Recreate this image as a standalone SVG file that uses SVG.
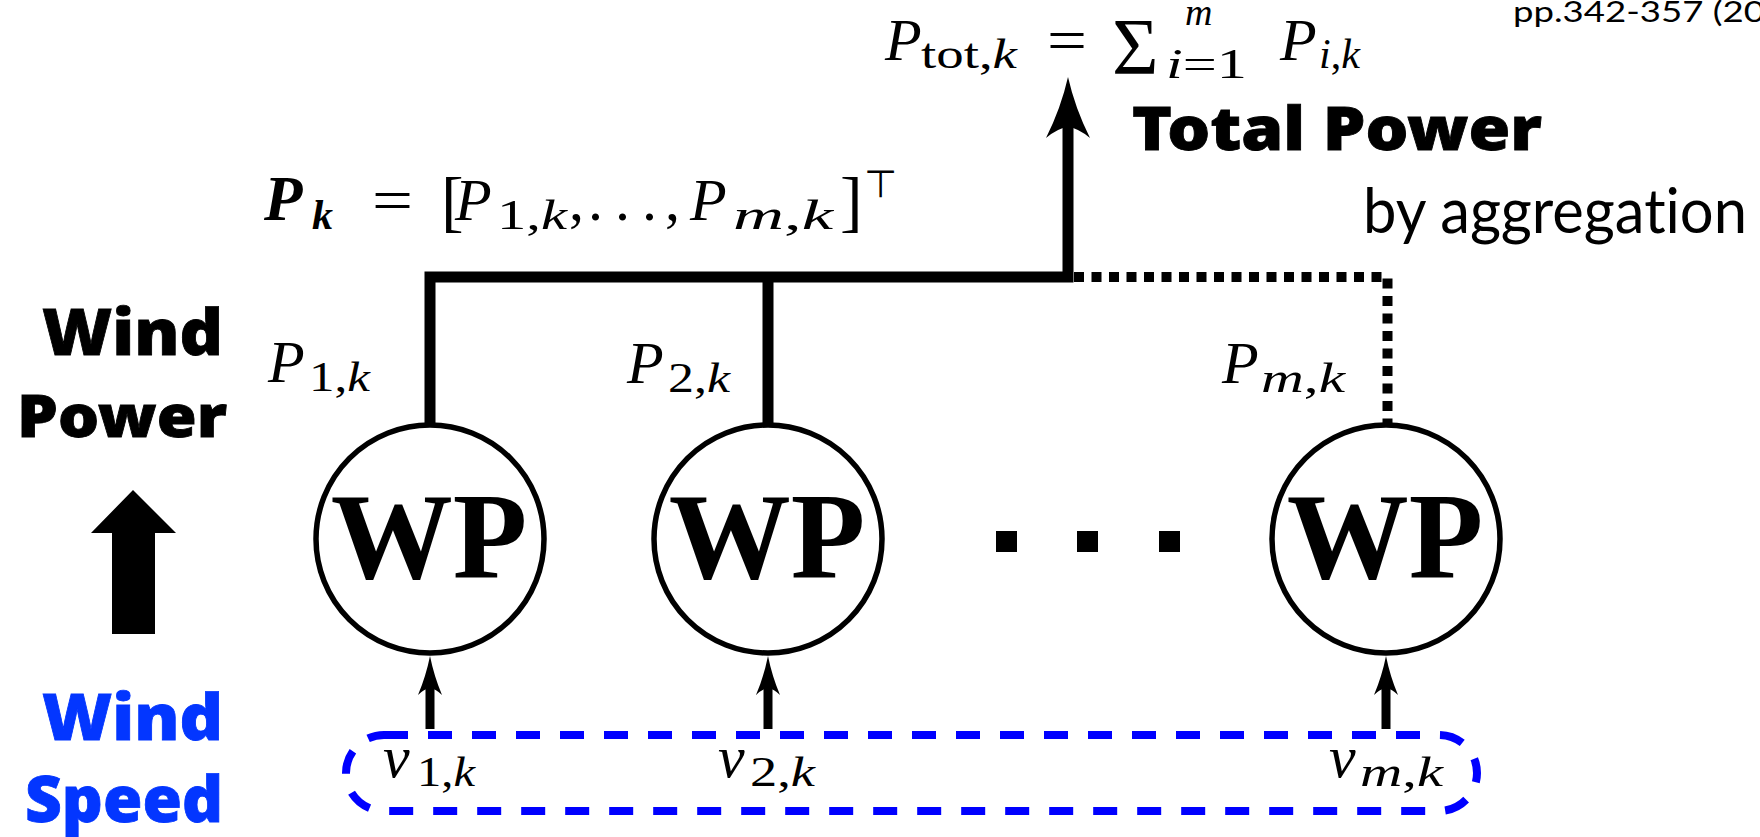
<svg xmlns="http://www.w3.org/2000/svg" width="1760" height="837" viewBox="0 0 1760 837">
<defs>
<style>
.node{fill:#fff;stroke:#000;stroke-width:5.5}
.wire{fill:none;stroke:#000;stroke-width:11}
.thin{fill:none;stroke:#000;stroke-width:9}
.dotted{fill:none;stroke:#000;stroke-width:10;stroke-dasharray:10 7.5}
</style>
</defs>
<rect width="1760" height="837" fill="#fff"/>

<text font-family="Lato" font-weight="400" x="1513" y="22" font-size="28" textLength="252" lengthAdjust="spacingAndGlyphs">pp.342-357 (20</text>

<g id="side-labels">
<text font-family="Noto Sans" font-weight="900" stroke="#000" stroke-width="0.8" x="42" y="355" font-size="64" textLength="181" lengthAdjust="spacingAndGlyphs" fill="#000">Wind</text>
<text font-family="Noto Sans" font-weight="900" stroke="#000" stroke-width="0.8" x="17" y="437" font-size="58" textLength="210" lengthAdjust="spacingAndGlyphs" fill="#000">Power</text>
<path d="M133,490 L176,533 L155,533 L155,634 L112,634 L112,533 L91,533 Z" fill="#000"/>
<text font-family="Noto Sans" font-weight="900" stroke="#0336ff" stroke-width="0.8" x="42" y="740" font-size="64" textLength="181" lengthAdjust="spacingAndGlyphs" fill="#0336ff">Wind</text>
<text font-family="Noto Sans" font-weight="900" stroke="#0336ff" stroke-width="0.8" x="25" y="822" font-size="64" textLength="198" lengthAdjust="spacingAndGlyphs" fill="#0336ff">Speed</text>
</g>

<g id="total-label">
<text font-family="Noto Sans" font-weight="900" stroke="#000" stroke-width="0.8" x="1132" y="150" font-size="60" textLength="410" lengthAdjust="spacingAndGlyphs" fill="#000">Total Power</text>
<text font-family="Lato" font-weight="400" style="font-variant-ligatures:none" x="1363" y="233" font-size="62" textLength="384" lengthAdjust="spacingAndGlyphs">by aggregation</text>
</g>

<g id="formula-total">
<text font-family="Liberation Serif" font-style="italic" font-size="60" x="885" y="60">P</text>
<text font-family="Liberation Serif" font-size="42" x="921" y="68" textLength="96" lengthAdjust="spacingAndGlyphs">tot,<tspan font-style="italic">k</tspan></text>
<text font-family="Liberation Serif" font-size="60" x="1047" y="60" textLength="40" lengthAdjust="spacingAndGlyphs">=</text>
<text font-family="Liberation Serif" font-size="80" x="1112" y="74">Σ</text>
<text font-family="Liberation Serif" font-style="italic" font-size="38" x="1185" y="25">m</text>
<text font-family="Liberation Serif" font-size="42" x="1166" y="78" textLength="81" lengthAdjust="spacingAndGlyphs"><tspan font-style="italic">i</tspan>=1</text>
<text font-family="Liberation Serif" font-style="italic" font-size="60" x="1280" y="60">P</text>
<text font-family="Liberation Serif" font-size="42" x="1319" y="68" textLength="41" lengthAdjust="spacingAndGlyphs"><tspan font-style="italic">i</tspan>,<tspan font-style="italic">k</tspan></text>
</g>

<g id="formula-vector">
<text font-family="Liberation Serif" font-style="italic" font-weight="bold" font-size="63" x="264" y="220">P</text>
<text font-family="Liberation Serif" font-style="italic" font-weight="bold" font-size="42" x="312" y="229">k</text>
<text font-family="Liberation Serif" font-size="60" x="372" y="220" textLength="41" lengthAdjust="spacingAndGlyphs">=</text>
<text font-family="Liberation Serif" font-size="68" x="441" y="224">[</text>
<text font-family="Liberation Serif" font-style="italic" font-size="60" x="455" y="220">P</text>
<text font-family="Liberation Serif" font-size="42" x="497" y="229" textLength="70" lengthAdjust="spacingAndGlyphs">1,<tspan font-style="italic">k</tspan></text>
<text font-family="Liberation Serif" font-size="60" x="569" y="220">,</text>
<text font-family="Liberation Serif" font-size="60" x="588" y="220">.</text>
<text font-family="Liberation Serif" font-size="60" x="615" y="220">.</text>
<text font-family="Liberation Serif" font-size="60" x="642" y="220">.</text>
<text font-family="Liberation Serif" font-size="60" x="665" y="220">,</text>
<text font-family="Liberation Serif" font-style="italic" font-size="60" x="690" y="220">P</text>
<text font-family="Liberation Serif" font-size="42" x="733" y="229" textLength="100" lengthAdjust="spacingAndGlyphs"><tspan font-style="italic">m</tspan>,<tspan font-style="italic">k</tspan></text>
<text font-family="Liberation Serif" font-size="68" x="840" y="224">]</text>
<text font-family="DejaVu Sans" font-size="38" x="864" y="197">⊤</text>
</g>

<g id="connectors">
<path class="wire" d="M430,425 V277 H1068 V120"/>
<path class="wire" d="M768,277 V425"/>
<path d="M1068,77 Q1075,108 1090,138 Q1078,128 1068,127 Q1058,128 1046,138 Q1061,108 1068,77 Z" fill="#000"/>
<path class="dotted" d="M1074,277 H1387.5 V425"/>
<path class="thin" d="M430,729 V685"/>
<path d="M430,656 Q434,676 442,695 Q436,689 430,688 Q424,689 418,695 Q426,676 430,656 Z" fill="#000"/>
<path class="thin" d="M768,729 V685"/>
<path d="M768,656 Q772,676 780,695 Q774,689 768,688 Q762,689 756,695 Q764,676 768,656 Z" fill="#000"/>
<path class="thin" d="M1386,729 V685"/>
<path d="M1386,656 Q1390,676 1398,695 Q1392,689 1386,688 Q1380,689 1374,695 Q1382,676 1386,656 Z" fill="#000"/>
</g>

<g id="node-p1-label">
<text font-family="Liberation Serif" font-style="italic" font-size="60" x="268" y="382">P</text>
<text font-family="Liberation Serif" font-size="42" x="309" y="391" textLength="61" lengthAdjust="spacingAndGlyphs">1,<tspan font-style="italic">k</tspan></text>
</g>
<g id="node-p2-label">
<text font-family="Liberation Serif" font-style="italic" font-size="60" x="627" y="383">P</text>
<text font-family="Liberation Serif" font-size="42" x="668" y="392" textLength="62" lengthAdjust="spacingAndGlyphs">2,<tspan font-style="italic">k</tspan></text>
</g>
<g id="node-pm-label">
<text font-family="Liberation Serif" font-style="italic" font-size="60" x="1222" y="383">P</text>
<text font-family="Liberation Serif" font-size="42" x="1261" y="392" textLength="84" lengthAdjust="spacingAndGlyphs"><tspan font-style="italic">m</tspan>,<tspan font-style="italic">k</tspan></text>
</g>

<g id="wp1">
<circle class="node" cx="430" cy="539" r="114"/>
<text font-family="Liberation Serif" font-weight="bold" font-size="122" text-anchor="middle" x="429" y="578">WP</text>
</g>
<g id="wp2">
<circle class="node" cx="768" cy="539" r="114"/>
<text font-family="Liberation Serif" font-weight="bold" font-size="122" text-anchor="middle" x="767" y="578">WP</text>
</g>
<g id="wpm">
<circle class="node" cx="1386" cy="539" r="114"/>
<text font-family="Liberation Serif" font-weight="bold" font-size="122" text-anchor="middle" x="1385" y="578">WP</text>
</g>

<g id="ellipsis" fill="#000">
<rect x="996" y="531" width="21" height="21"/>
<rect x="1077" y="531" width="21" height="21"/>
<rect x="1159" y="531" width="21" height="21"/>
</g>

<g id="wind-speed">
<rect x="346" y="735" width="1131" height="76" rx="38" fill="none" stroke="#0000ff" stroke-width="8" stroke-dasharray="24 20"/>
<text font-family="Liberation Serif" font-style="italic" font-size="60" x="383" y="777">v</text>
<text font-family="Liberation Serif" font-size="42" x="417" y="786" textLength="58" lengthAdjust="spacingAndGlyphs">1,<tspan font-style="italic">k</tspan></text>
<text font-family="Liberation Serif" font-style="italic" font-size="60" x="718" y="777">v</text>
<text font-family="Liberation Serif" font-size="42" x="750" y="786" textLength="65" lengthAdjust="spacingAndGlyphs">2,<tspan font-style="italic">k</tspan></text>
<text font-family="Liberation Serif" font-style="italic" font-size="60" x="1329" y="777">v</text>
<text font-family="Liberation Serif" font-size="42" x="1360" y="786" textLength="83" lengthAdjust="spacingAndGlyphs"><tspan font-style="italic">m</tspan>,<tspan font-style="italic">k</tspan></text>
</g>
</svg>
